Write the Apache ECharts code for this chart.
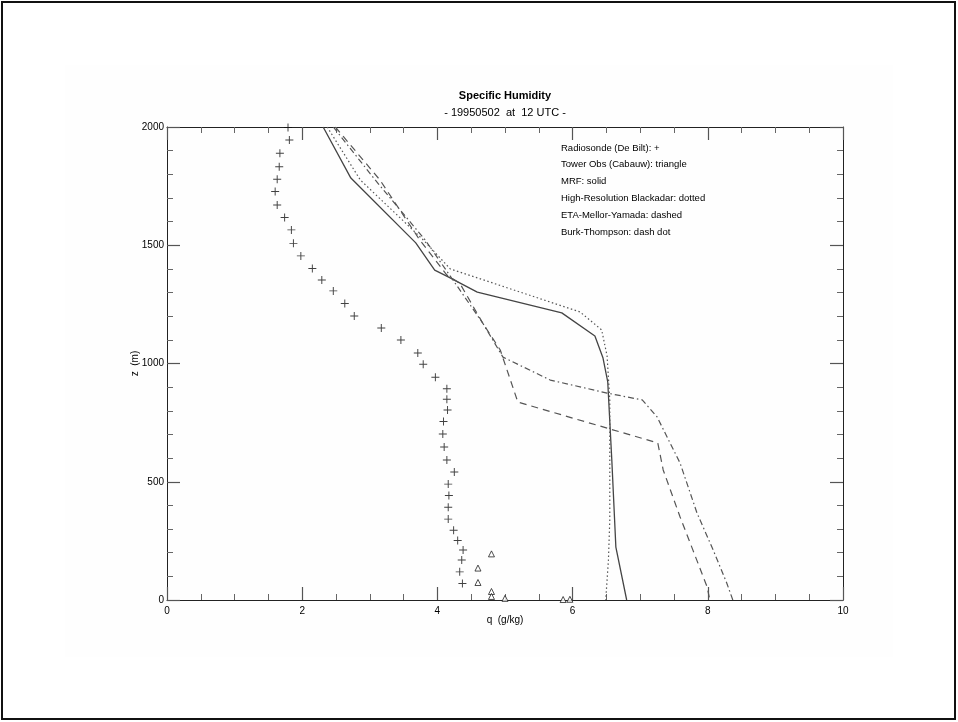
<!DOCTYPE html>
<html><head><meta charset="utf-8">
<script src="https://cdn.jsdelivr.net/npm/echarts/dist/echarts.min.js"></script>
<style>html,body{margin:0;padding:0;background:#fff}#c{width:958px;height:722px}</style>
</head><body><div id="c"></div>
<script>
// ---- Data ----
const titleText = 'Specific Humidity';
const subtitleText = '- 19950502  at  12 UTC -';
const legendLines = [
  'Radiosonde (De Bilt): +',
  'Tower Obs (Cabauw): triangle',
  'MRF: solid',
  'High-Resolution Blackadar: dotted',
  'ETA-Mellor-Yamada: dashed',
  'Burk-Thompson: dash dot'
];
const xTicks = [0, 2, 4, 6, 8, 10];
const yTicks = [0, 500, 1000, 1500, 2000];

// Radiosonde (+)
const radiosondeQ = [1.79,1.81,1.67,1.66,1.63,1.60,1.63,1.74,1.84,1.87,1.98,2.15,2.29,2.46,2.63,2.77,3.17,3.46,3.71,3.79,3.97,4.14,4.14,4.15,4.09,4.08,4.10,4.14,4.25,4.16,4.17,4.16,4.16,4.24,4.30,4.38,4.36,4.33,4.37];
const radiosondeZ = [1998,1945,1889,1832,1779,1727,1670,1617,1565,1508,1455,1402,1353,1307,1254,1201,1150,1099,1044,997,942,893,849,803,755,702,647,592,541,490,442,392,342,295,252,211,169,119,70];

// Tower obs (triangles)
const towerQ = [4.80,4.60,4.60,4.80,4.80,5.00,5.86,5.96];
const towerZ = [195,135,74,36,15,7,2,3];

// MRF (solid)
const mrfQ = [2.31,2.72,3.68,3.96,4.16,4.59,5.84,6.33,6.45,6.52,6.58,6.64,6.80];
const mrfZ = [2000,1784,1510,1395,1366,1302,1214,1116,1023,922,592,224,0];

// High-Resolution Blackadar (dotted)
const hrbQ = [2.37,2.86,3.80,4.19,6.11,6.43,6.51,6.55,6.55,6.53,6.49];
const hrbZ = [2000,1776,1520,1400,1218,1142,1032,846,338,169,0];

// ETA-Mellor-Yamada (dashed)
const etaQ = [2.49,3.15,3.74,4.14,4.33,4.67,4.93,5.19,7.26,7.34,7.59,7.78,7.99,8.03];
const etaZ = [2000,1776,1522,1374,1340,1171,1057,837,664,550,351,211,55,0];

// Burk-Thompson (dash dot)
const btQ = [2.46,3.08,3.82,4.23,4.67,4.97,5.67,6.51,7.03,7.25,7.59,7.84,8.08,8.28,8.37];
const btZ = [2000,1776,1522,1353,1171,1027,930,875,846,774,579,368,211,72,0];

const zip = (q, z) => q.map((v, i) => [v, z[i]]);

const FONT = 'Liberation Sans';
const chart = echarts.init(document.getElementById('c'), null, {renderer: 'canvas'});

const axisCommon = {
  type: 'value',
  axisLine: {show: true, onZero: false, lineStyle: {color: '#222', width: 1}},
  axisTick: {show: true, inside: true, length: 13, lineStyle: {color: '#555', width: 1.2}},
  minorTick: {show: true, length: 6, lineStyle: {color: '#666', width: 1}},
  splitLine: {show: false},
  minorSplitLine: {show: false}
};

const plusPath = 'path://M4.4,0H5.6V4.4H10V5.6H5.6V10H4.4V5.6H0V4.4H4.4Z';

const option = {
  animation: false,
  backgroundColor: '#fff',
  grid: {left: 167, top: 127, width: 676, height: 473, containLabel: false},
  xAxis: [
    Object.assign({}, axisCommon, {
      position: 'bottom', min: xTicks[0], max: xTicks[xTicks.length-1], interval: 2,
      minorTick: Object.assign({}, axisCommon.minorTick, {splitNumber: 4}),
      axisLabel: {show: true, fontSize: 10, color: '#000', fontFamily: FONT, margin: 6, formatter: v => String(v)},
      name: 'q  (g/kg)', nameLocation: 'middle', nameGap: 15, nameMoveOverlap: false,
      nameTextStyle: {fontSize: 10, color: '#000', fontFamily: FONT}
    }),
    Object.assign({}, axisCommon, {
      position: 'top', min: xTicks[0], max: xTicks[xTicks.length-1], interval: 2,
      minorTick: Object.assign({}, axisCommon.minorTick, {splitNumber: 4}),
      axisLabel: {show: false}
    })
  ],
  yAxis: [
    Object.assign({}, axisCommon, {
      position: 'left', min: yTicks[0], max: yTicks[yTicks.length-1], interval: 500,
      minorTick: Object.assign({}, axisCommon.minorTick, {splitNumber: 5}),
      axisLabel: {show: true, fontSize: 10, color: '#000', fontFamily: FONT, margin: 3, formatter: v => String(v)},
      name: 'z  (m)', nameLocation: 'middle', nameGap: 27, nameRotate: 90, nameMoveOverlap: false,
      nameTextStyle: {fontSize: 10, color: '#000', fontFamily: FONT}
    }),
    Object.assign({}, axisCommon, {
      position: 'right', min: yTicks[0], max: yTicks[yTicks.length-1], interval: 500,
      minorTick: Object.assign({}, axisCommon.minorTick, {splitNumber: 5}),
      axisLabel: {show: false}
    })
  ],
  graphic: [
    {type: 'rect', silent: true, z: -10, shape: {x: 65, y: 65, width: 828, height: 592}, style: {fill: '#fefefe'}},
    {type: 'rect', silent: true, z: 100, shape: {x: 2, y: 2, width: 953, height: 717}, style: {fill: 'none', stroke: '#111', lineWidth: 2}},
    {type: 'text', x: 505, y: 96, style: {text: titleText, font: 'bold 11px "Liberation Sans"', fill: '#000', textAlign: 'center', textVerticalAlign: 'middle'}},
    {type: 'text', x: 505, y: 113, style: {text: subtitleText, font: '11px "Liberation Sans"', fill: '#000', textAlign: 'center', textVerticalAlign: 'middle'}}
  ].concat(legendLines.map((t, i) => ({
    type: 'text', x: 561, y: 148 + i * 16.8,
    style: {text: t, font: '9.5px "Liberation Sans"', fill: '#000', textAlign: 'left', textVerticalAlign: 'middle'}
  }))),
  series: [
    {name: 'Radiosonde', type: 'scatter', data: zip(radiosondeQ, radiosondeZ), symbol: plusPath, symbolSize: 8,
     itemStyle: {color: '#111'}, clip: false},
    {name: 'Tower Obs', type: 'scatter', data: zip(towerQ, towerZ), symbol: 'triangle', symbolSize: 6,
     itemStyle: {color: '#fff', borderColor: '#222', borderWidth: 1}, clip: false},
    {name: 'MRF', type: 'line', data: zip(mrfQ, mrfZ), symbol: 'none', lineStyle: {color: '#444', width: 1.3, type: 'solid'}},
    {name: 'HRB', type: 'line', data: zip(hrbQ, hrbZ), symbol: 'none', lineStyle: {color: '#555', width: 1.2, type: [1.5, 2.5]}},
    {name: 'ETA', type: 'line', data: zip(etaQ, etaZ), symbol: 'none', lineStyle: {color: '#555', width: 1.2, type: [7, 5]}},
    {name: 'BT', type: 'line', data: zip(btQ, btZ), symbol: 'none', lineStyle: {color: '#555', width: 1.2, type: [6, 3, 1.5, 3]}}
  ]
};
chart.setOption(option);
</script>
</body></html>
